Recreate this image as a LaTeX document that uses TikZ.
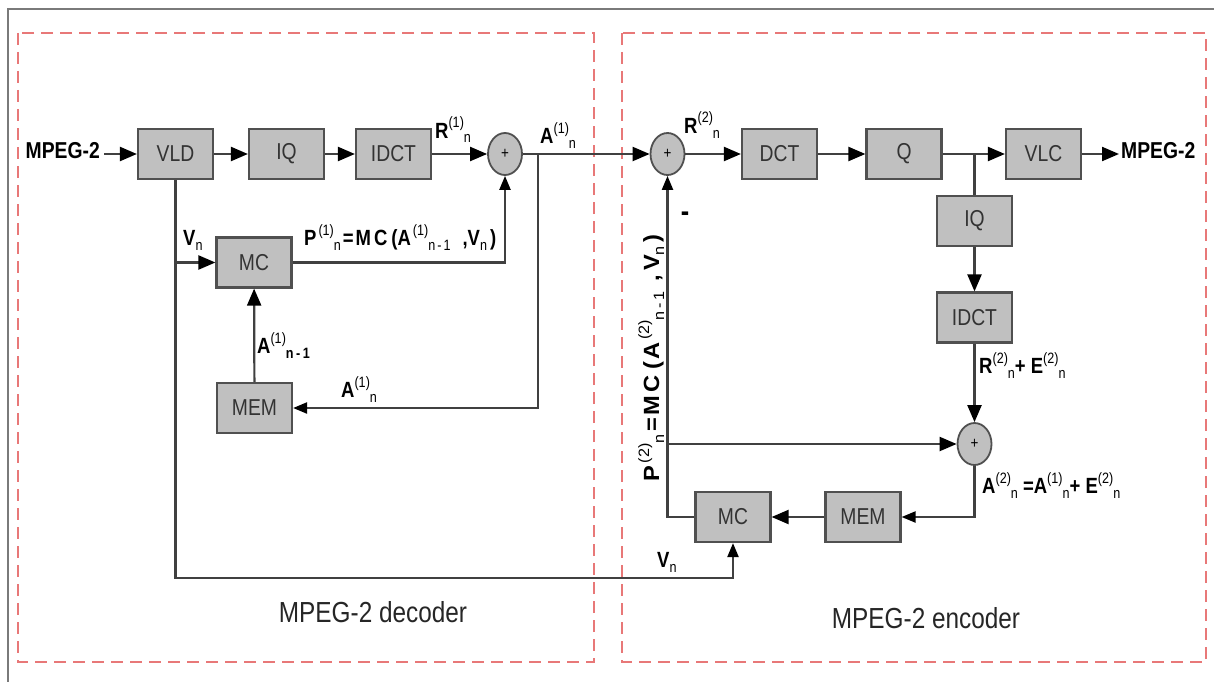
\documentclass[tikz,border=0pt]{standalone}
\usepackage{fontspec}
\setmainfont{Liberation Sans}[FakeStretch=0.84]
\usetikzlibrary{arrows.meta,shapes.geometric}
\definecolor{boxfill}{HTML}{C0C0C0}
\definecolor{boxline}{HTML}{505050}
\definecolor{wirec}{HTML}{404040}
\definecolor{dashred}{HTML}{E87878}
\definecolor{framec}{HTML}{7A7A7A}
\newcommand{\sbsp}[2]{\raisebox{10pt}{\fontsize{15}{15}\selectfont\mdseries(#1)}\raisebox{-5pt}{\fontsize{15}{15}\selectfont\mdseries #2}}
\newcommand{\sbo}[1]{\raisebox{-5pt}{\fontsize{15}{15}\selectfont\mdseries #1}}
\newcommand{\gp}[1]{\hspace{#1pt}}
\begin{document}
\begin{tikzpicture}[x=1pt,y=-1pt,
 blk/.style={draw=boxline,line width=2.2pt,fill=boxfill,minimum width=75pt,minimum height=50pt,inner sep=0pt,font=\fontsize{23}{23}\selectfont,text=black!80},
 adder/.style={ellipse,draw=boxline,line width=1.8pt,fill=boxfill,minimum width=34pt,minimum height=42pt,inner sep=0pt,font=\fontsize{16}{16}\selectfont},
 wire/.style={draw=wirec,line width=2.2pt},
 big/.style={wire,-{Triangle[length=17pt,width=14pt,color=black]}},
 small/.style={wire,-{Triangle[length=14pt,width=11pt,color=black]}},
 lab/.style={inner sep=0pt,font=\bfseries\fontsize{22}{22}\selectfont},
 region/.style={draw=dashred,line width=2.6pt,dash pattern=on 12pt off 7pt},
 title/.style={inner sep=0pt,font=\fontsize{29}{29}\selectfont,text=black!85}
]
\useasboundingbox (0,0) rectangle (1214,682);
\draw[draw=framec,line width=2.5pt] (1214,9) -- (8,9) -- (8,682);
\draw[region] (18,33) rectangle (594,662);
\draw[region] (622,33) rectangle (1206,662);

% decoder blocks
\node[blk] (vld) at (175.5,154) {VLD};
\node[blk] (iq1) at (286.5,154) {IQ};
\node[blk] (idct1) at (393.5,154) {IDCT};
\node[adder] (add1) at (505,154) {+};
\node[blk] (mc1) at (254,262.5) {MC};
\node[blk] (mem1) at (254.5,408) {MEM};
% encoder blocks
\node[adder] (add2) at (667.5,154) {+};
\node[blk] (dct) at (779.5,154) {DCT};
\node[blk] (q) at (904,154) {Q};
\node[blk] (vlc) at (1043.5,154) {VLC};
\node[blk] (iq2) at (974.5,221) {IQ};
\node[blk] (idct2) at (974.5,317.5) {IDCT};
\node[adder] (add3) at (974.5,444) {+};
\node[blk] (mem2) at (863,517) {MEM};
\node[blk] (mc2) at (733,517) {MC};

% in / out
\node[lab,anchor=east,inner xsep=4pt,font=\bfseries\fontsize{23}{23}\selectfont] (min) at (104,151) {MPEG-2};
\node[lab,anchor=west,inner xsep=2pt,font=\bfseries\fontsize{23}{23}\selectfont] (mout) at (1119,151) {MPEG-2};

% labels
\node[lab,anchor=base west] (r1) at (435,138) {R\sbsp{1}{n}};
\node[lab,anchor=base west] (a1) at (540,143) {A\sbsp{1}{n}};
\node[lab,anchor=base west] (v1) at (183,245) {V\sbo{n}};
\node[lab,anchor=base west] (p1) at (304,245) {P\gp{2}\sbsp{1}{n}\gp{2}=\gp{2}M\gp{3}C\gp{4}(A\gp{2}\sbsp{1}{n\gp{2}-\gp{2}1}\gp{12},V\sbo{n}\gp{3})};
\node[lab,anchor=base west] (a1m) at (257,353) {A\sbsp{1}{\bfseries n\,-\,1}};
\node[lab,anchor=base west] (a1n) at (341,397) {A\sbsp{1}{n}};
\node[lab,anchor=base west] (r2) at (684,133) {R\sbsp{2}{n}};
\node[lab,font=\bfseries\fontsize{30}{30}\selectfont] (minus) at (685,217) {-};
\node[lab,rotate=90,anchor=base] (p2) at (659,358) {\scalebox{1.28}[1]{P\gp{2}\sbsp{2}{n}\gp{2}=\gp{2}M\gp{3}C\gp{4}(\gp{2}A\gp{2}\sbsp{2}{n\gp{2}-\gp{2}1}\gp{8},\gp{3}V\sbo{n}\gp{3})}};
\node[lab,anchor=base west] (re2) at (979,373) {R\sbsp{2}{n}+ E\sbsp{2}{n}};
\node[lab,anchor=base west] (a2) at (982,493) {A\sbsp{2}{n} =A\sbsp{1}{n}+ E\sbsp{2}{n}};
\node[lab,anchor=base west] (v2) at (657,567) {V\sbo{n}};
\node[title] (dect) at (373,612) {MPEG-2 decoder};
\node[title] (enct) at (926,618) {MPEG-2 encoder};

% connectors
\coordinate (j1) at (537.7,154);
\coordinate (j2) at (974.5,154);
\coordinate (bot1) at (175.5,577.7);
\draw[big] (min.east |- vld.west) -- (vld.west);
\draw[big] (vld) -- (iq1);
\draw[big] (iq1) -- (idct1);
\draw[big] (idct1) -- (add1);
\draw[big] (add1) -- (add2);
\draw[small] (j1) |- (mem1.east);
\draw[big] (mem1) -- (mc1);
\draw[big] (vld.south |- mc1.west) -- (mc1.west);
\draw[small] (vld.south) -- (bot1) -| (mc2.south);
\draw[small] (mc1.east) -| (add1.south);
\draw[big] (add2) -- (dct);
\draw[big] (dct) -- (q);
\draw[big] (q) -- (vlc);
\draw[big] (vlc.east) -- (vlc.east -| mout.west);
\draw[wire] (j2) -- (iq2.north);
\draw[big] (iq2) -- (idct2);
\draw[big] (idct2) -- (add3);
\draw[small] (add3.south) |- (mem2.east);
\draw[big] (mem2) -- (mc2);
\draw[small] (mc2.west) -| (add2.south);
\draw[big] (add2.south |- add3.west) -- (add3.west);
\end{tikzpicture}
\end{document}
